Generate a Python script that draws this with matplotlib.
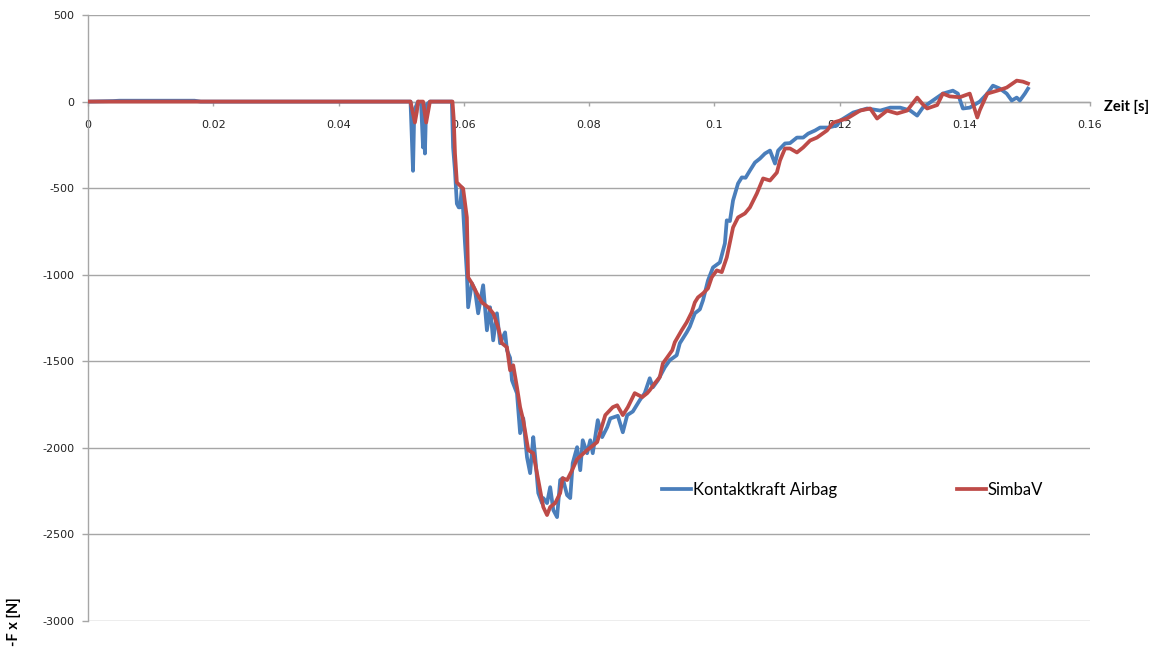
import matplotlib
matplotlib.use("Agg")
import matplotlib.pyplot as plt

# ---- data ----
t_airbag = [0.0, 0.004, 0.005, 0.017, 0.018, 0.0515, 0.0519, 0.0521, 0.0527, 0.0532, 0.0535, 0.0536,
            0.0538, 0.0540, 0.0546, 0.0581, 0.0583, 0.0586, 0.0589, 0.0592, 0.0594, 0.0597, 0.0602,
            0.0605, 0.0607, 0.0613, 0.0618, 0.0623, 0.0631, 0.0637, 0.0642, 0.0647, 0.0653, 0.0658,
            0.0666, 0.0669, 0.0674, 0.0677, 0.0685, 0.0690, 0.0695, 0.0701, 0.0706, 0.0711, 0.0714,
            0.0719, 0.0725, 0.0727, 0.0733, 0.0738, 0.0743, 0.0749, 0.0754, 0.0758, 0.0765, 0.0770,
            0.0774, 0.0781, 0.0786, 0.0790, 0.0797, 0.0802, 0.0806, 0.0814, 0.0821, 0.0829, 0.0834,
            0.0846, 0.0854, 0.0861, 0.0870, 0.0881, 0.0889, 0.0897, 0.0902, 0.0910, 0.0921, 0.0929,
            0.0940, 0.0945, 0.0956, 0.0961, 0.0969, 0.0977, 0.0982, 0.0990, 0.0998, 0.1009, 0.1017,
            0.1020, 0.1025, 0.1030, 0.1038, 0.1044, 0.1050, 0.1057, 0.1065, 0.1073, 0.1081, 0.1089,
            0.1097, 0.1102, 0.1113, 0.1121, 0.1132, 0.1142, 0.1150, 0.1161, 0.1169, 0.1182, 0.1196,
            0.1201, 0.1222, 0.1244, 0.1265, 0.1281, 0.1297, 0.1313, 0.1324, 0.1333, 0.1349, 0.1365,
            0.1381, 0.1389, 0.1397, 0.1408, 0.1424, 0.1436, 0.1445, 0.1456, 0.1467, 0.1475, 0.1483,
            0.1488, 0.1496, 0.1501]
f_airbag = [0, 3, 5, 5, 0, 0, -400, -50, 0, -20, -265, -50,
            -300, -20, 0, 0, -265, -400, -590, -611, -611, -496, -819,
            -992, -1188, -1050, -1090, -1223, -1061, -1321, -1188, -1379, -1223, -1396,
            -1333, -1436, -1480, -1610, -1685, -1915, -1829, -2054, -2146, -1938, -2050,
            -2261, -2319, -2290, -2319, -2227, -2359, -2400, -2186, -2175, -2273, -2290,
            -2088, -1996, -2129, -1956, -2031, -1956, -2031, -1840, -1938, -1881, -1830,
            -1815, -1910, -1811, -1790, -1725, -1684, -1598, -1650, -1610, -1535, -1494,
            -1465, -1396, -1333, -1300, -1223, -1200, -1148, -1033, -958, -929, -819,
            -686, -690, -571, -473, -438, -440, -398, -352, -329, -300, -283,
            -358, -283, -242, -240, -208, -208, -185, -167, -150, -150, -138,
            -110, -63, -40, -52, -35, -35, -52, -81, -35, 6, 46,
            63, 46, -40, -35, 0, 46, 92, 75, 46, 6, 23,
            6, 46, 75]

t_simba = [0.0, 0.0515, 0.0522, 0.0525, 0.0527, 0.0535, 0.0540, 0.0546, 0.0582, 0.0584, 0.0586,
           0.0589, 0.0597, 0.0599, 0.0605, 0.0607, 0.0613, 0.0621, 0.0629, 0.0639, 0.0647, 0.0655,
           0.0661, 0.0669, 0.0674, 0.0679, 0.0685, 0.0690, 0.0695, 0.0703, 0.0711, 0.0719, 0.0727,
           0.0733, 0.0738, 0.0746, 0.0754, 0.0758, 0.0765, 0.0773, 0.0781, 0.0797, 0.0813, 0.0826,
           0.0838, 0.0845, 0.0854, 0.0862, 0.0873, 0.0885, 0.0893, 0.0897, 0.0905, 0.0913, 0.0918,
           0.0925, 0.0933, 0.0937, 0.0948, 0.0956, 0.0964, 0.0969, 0.0974, 0.0982, 0.0990, 0.0996,
           0.1004, 0.1012, 0.1020, 0.1030, 0.1038, 0.1049, 0.1057, 0.1068, 0.1078, 0.1089, 0.1100,
           0.1105, 0.1113, 0.1121, 0.1132, 0.1142, 0.1153, 0.1164, 0.1180, 0.1190, 0.1212, 0.1233,
           0.1249, 0.1260, 0.1276, 0.1292, 0.1308, 0.1324, 0.1332, 0.1340, 0.1356, 0.1365, 0.1376,
           0.1392, 0.1408, 0.1420, 0.1424, 0.1436, 0.1452, 0.1467, 0.1483, 0.1493, 0.1501]
f_simba = [0, 0, -121, -60, 0, 0, -121, 0, 0, -100, -300,
           -467, -496, -502, -669, -1015, -1050, -1108, -1160, -1188, -1223, -1304,
           -1396, -1419, -1552, -1523, -1650, -1765, -1840, -2013, -2031, -2186, -2342,
           -2388, -2342, -2319, -2261, -2175, -2186, -2129, -2065, -2013, -1967, -1811,
           -1765, -1754, -1811, -1765, -1684, -1707, -1684, -1667, -1627, -1592, -1512,
           -1477, -1436, -1390, -1321, -1275, -1217, -1160, -1131, -1108, -1079, -1015,
           -975, -985, -900, -727, -669, -646, -611, -531, -444, -456, -410,
           -340, -271, -271, -294, -265, -225, -208, -167, -121, -98, -52,
           -40, -98, -52, -69, -52, 23, -12, -40, -20, 46, 30,
           25, 46, -92, -50, 46, 63, 81, 121, 115, 104]

series_names = ["Kontaktkraft Airbag", "SimbaV"]
x_ticks = [0, 0.02, 0.04, 0.06, 0.08, 0.1, 0.12, 0.14, 0.16]
x_ticklabels = ["0", "0.02", "0.04", "0.06", "0.08", "0.1", "0.12", "0.14", "0.16"]
y_ticks = [500, 0, -500, -1000, -1500, -2000, -2500, -3000]

# ---- plot ----
W, H = 1168, 658
fig = plt.figure(figsize=(W / 100, H / 100), dpi=100)
ax = fig.add_axes([88 / W, 1 - 621 / H, (1090 - 88) / W, (621 - 15) / H])

gray = "#A6A6A6"
ax.plot(t_airbag, f_airbag, color="#4A7EBB", lw=2.7, label=series_names[0], zorder=3,
        solid_joinstyle="round")
ax.plot(t_simba, f_simba, color="#BE4B48", lw=2.7, label=series_names[1], zorder=4,
        solid_joinstyle="round")

ax.set_xlim(0, 0.16)
ax.set_ylim(-3000, 500)
ax.set_xticks(x_ticks)
ax.set_xticklabels(x_ticklabels)
ax.set_yticks(y_ticks)
ax.set_yticklabels([str(v) for v in y_ticks])

for s in ["top", "right"]:
    ax.spines[s].set_visible(False)
ax.spines["bottom"].set_position(("data", 0))
ax.spines["bottom"].set_color(gray)
ax.spines["left"].set_color(gray)
ax.spines["bottom"].set_linewidth(1.0)
ax.spines["left"].set_linewidth(1.0)

ax.yaxis.grid(True, color=gray, lw=1.0)
ax.set_axisbelow(True)
ax.tick_params(axis="x", direction="out", length=3, width=1, color=gray, pad=10,
               labelsize=8, labelcolor="#222222")
ax.tick_params(axis="y", direction="out", length=4, width=1, color=gray, pad=6,
               labelsize=8, labelcolor="#222222")

fig.text(1104 / W, 1 - 107 / H, "Zeit [s]", fontsize=10.5, fontweight="bold",
         family=["Lato", "DejaVu Sans"], ha="left", va="center")
fig.text(14 / W, 1 - 622 / H, "-F x [N]", fontsize=10.5, fontweight="bold",
         family=["Lato", "DejaVu Sans"], ha="center", va="center", rotation=90)

leg = ax.legend(loc="center left", bbox_to_anchor=(662 / W, 1 - 490 / H),
                bbox_transform=fig.transFigure, ncol=2, frameon=False,
                borderpad=0, borderaxespad=0, handlelength=1.75, handletextpad=0.1,
                columnspacing=7.2, prop={"family": "Lato", "size": 12})

fig.savefig("out.png", dpi=100)
